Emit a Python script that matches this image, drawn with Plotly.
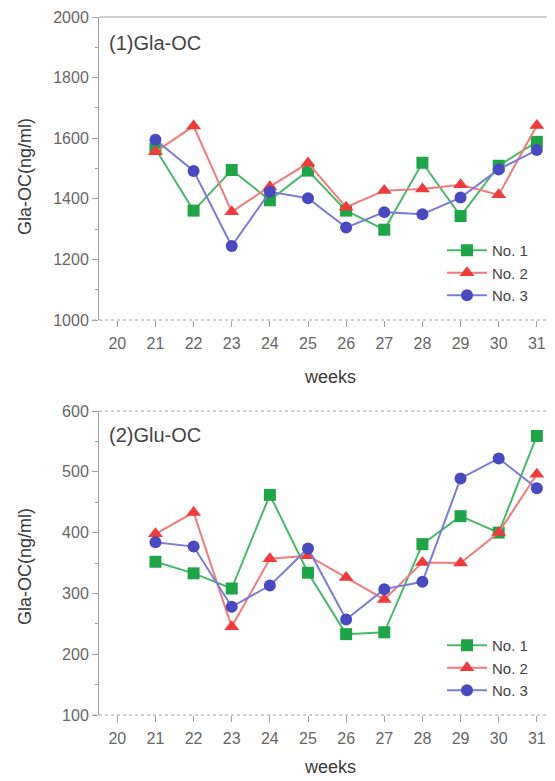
import plotly.graph_objects as go

weeks = [21, 22, 23, 24, 25, 26, 27, 28, 29, 30, 31]
tick_weeks = [20, 21, 22, 23, 24, 25, 26, 27, 28, 29, 30, 31]

gla_no1 = [1565, 1361, 1495, 1395, 1493, 1361, 1298, 1519, 1343, 1509, 1588]
gla_no2 = [1555, 1640, 1357, 1440, 1518, 1372, 1427, 1432, 1446, 1413, 1642]
gla_no3 = [1595, 1492, 1244, 1423, 1402, 1305, 1356, 1349, 1404, 1497, 1561]

glu_no1 = [352, 333, 308, 462, 334, 233, 236, 381, 427, 400, 559]
glu_no2 = [398, 433, 245, 357, 362, 326, 290, 351, 350, 400, 496]
glu_no3 = [384, 377, 278, 313, 374, 257, 307, 319, 489, 522, 473]

series_names = ["No. 1", "No. 2", "No. 3"]
line_colors = ["#49b868", "#f27a7a", "#7c7cd6"]
marker_colors = ["#1fa548", "#ee3b3b", "#4a4ac0"]
symbols = ["square", "triangle-up", "circle"]

# page body has an 8px margin: figure is shifted, so compensate
OFF = 8
W, H = 547, 770

def px(p):
    return (p - OFF) / W

def py(p):
    return 1 - (p - OFF) / H

fig = go.Figure()

panels = [
    ([gla_no1, gla_no2, gla_no3], "x", "y", "legend"),
    ([glu_no1, glu_no2, glu_no3], "x2", "y2", "legend2"),
]
for pi, (data, xa, ya, lg) in enumerate(panels):
    for i, vals in enumerate(data):
        fig.add_trace(go.Scatter(
            x=weeks, y=vals, mode="lines+markers", name=series_names[i],
            xaxis=xa, yaxis=ya,
            line=dict(color=line_colors[i], width=2),
            marker=dict(symbol=symbols[i], size=12 if i != 1 else 13,
                        color=marker_colors[i]),
            showlegend=True, legend=lg,
        ))

font_fam = "Liberation Sans, Arial"
tick_font = dict(family=font_fam, size=16, color="#666666")
grey = "#a0a0a0"
axis_common = dict(
    ticks="outside", tickcolor=grey, ticklen=6,
    showgrid=False, zeroline=False, tickfont=tick_font, automargin=False,
)

x_dom = [px(99), px(554)]
top_dom = [py(320), py(17)]
bot_dom = [py(715), py(411)]

title_font = dict(family=font_fam, size=18, color="#3a3a3a")
legend_font = dict(family=font_fam, size=15, color="#444444")

shapes = []
for (ytop, ybot, top_dash) in [(17, 320, "solid"), (411, 715, "dot")]:
    shapes.append(dict(type="line", xref="paper", yref="paper",
                       x0=px(99), x1=px(554), y0=py(ytop), y1=py(ytop),
                       line=dict(color=grey, width=1, dash=top_dash)))
    shapes.append(dict(type="line", xref="paper", yref="paper",
                       x0=px(93), x1=px(554), y0=py(ybot), y1=py(ybot),
                       line=dict(color=grey, width=1, dash="dot")))
    shapes.append(dict(type="line", xref="paper", yref="paper",
                       x0=px(554), x1=px(554), y0=py(ytop), y1=py(ybot),
                       line=dict(color=grey, width=1)))

fig.update_layout(
    width=W, height=H,
    margin=dict(l=0, r=0, t=0, b=0),
    paper_bgcolor="white", plot_bgcolor="white",
    font=dict(family=font_fam, color="#555555"),
    xaxis=dict(domain=x_dom, anchor="y", range=[19.52, 31.45], showline=False,
               tickvals=tick_weeks, ticklabelstandoff=3, **axis_common),
    yaxis=dict(domain=top_dom, anchor="x", range=[1000, 2000], dtick=200,
               showline=True, linecolor=grey, linewidth=1, mirror=False,
               minor=dict(dtick=100, ticks="outside", ticklen=3, tickcolor=grey),
               **axis_common),
    xaxis2=dict(domain=x_dom, anchor="y2", range=[19.52, 31.45], showline=False,
                tickvals=tick_weeks, ticklabelstandoff=3, **axis_common),
    yaxis2=dict(domain=bot_dom, anchor="x2", range=[100, 600], dtick=100,
                showline=True, linecolor=grey, linewidth=1, mirror=False,
                minor=dict(dtick=50, ticks="outside", ticklen=3, tickcolor=grey),
                **axis_common),
    legend=dict(x=px(442), y=py(234), xanchor="left", yanchor="top",
                bgcolor="rgba(0,0,0,0)", font=legend_font,
                tracegroupgap=0, itemwidth=40),
    legend2=dict(x=px(442), y=py(629), xanchor="left", yanchor="top",
                 bgcolor="rgba(0,0,0,0)", font=legend_font,
                 tracegroupgap=0, itemwidth=40),
    shapes=shapes,
    annotations=[
        dict(text="(1)Gla-OC", x=px(107), y=py(43), xref="paper", yref="paper",
             xanchor="left", yanchor="middle", showarrow=False,
             font=dict(family=font_fam, size=20, color="#444444")),
        dict(text="(2)Glu-OC", x=px(107), y=py(435), xref="paper", yref="paper",
             xanchor="left", yanchor="middle", showarrow=False,
             font=dict(family=font_fam, size=20, color="#444444")),
        dict(text="weeks", x=px(330), y=py(377), xref="paper", yref="paper",
             xanchor="center", yanchor="middle", showarrow=False, font=title_font),
        dict(text="weeks", x=px(330), y=py(767), xref="paper", yref="paper",
             xanchor="center", yanchor="middle", showarrow=False, font=title_font),
        dict(text="Gla-OC(ng/ml)", x=px(25), y=py(177), xref="paper", yref="paper",
             xanchor="center", yanchor="middle", showarrow=False, textangle=-90,
             font=title_font),
        dict(text="Gla-OC(ng/ml)", x=px(25), y=py(567), xref="paper", yref="paper",
             xanchor="center", yanchor="middle", showarrow=False, textangle=-90,
             font=title_font),
    ],
)

fig.write_html("out.html")
